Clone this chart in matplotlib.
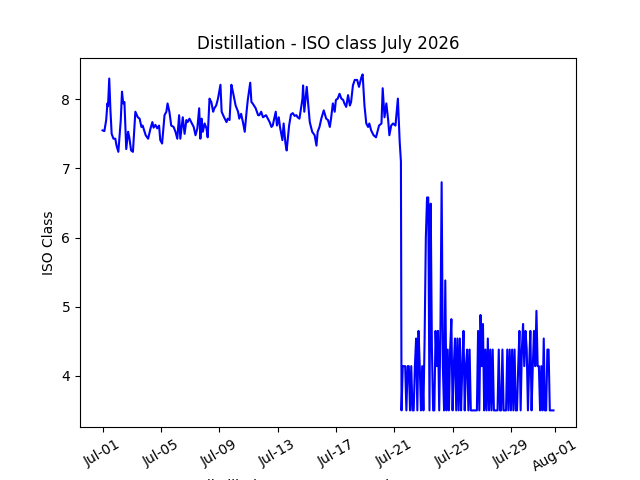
import matplotlib
matplotlib.use("Agg")
import matplotlib.pyplot as plt
import matplotlib.dates as mdates
import numpy as np
import pandas as pd

start = pd.Timestamp("2026-07-01 00:00")

# Part 1: hours since start and ISO class readings (before the drop)
high_hours = [0, 3, 6, 8, 9, 11, 13, 15, 18, 21,
              23, 26, 30, 32, 34, 36, 39, 42, 44, 47,
              50, 54, 58, 61, 64, 66, 71, 75, 79, 82,
              84, 87, 90, 93, 95, 98, 102, 105, 107, 110,
              113, 117, 120, 123, 126, 128, 132, 135, 138, 140,
              143, 146, 150, 153, 156, 159, 161, 163, 165, 168,
              171, 173, 176, 179, 182, 184, 187, 190, 194, 196,
              200, 204, 206, 209, 212, 214, 219, 223, 225, 228,
              231, 234, 237, 239, 243, 245, 247, 252, 256, 258,
              261, 264, 269, 275, 278, 280, 285, 287, 290, 292,
              296, 298, 301, 303, 307, 310, 313, 316, 319, 321,
              324, 329, 330, 332, 336, 341, 345, 349, 352, 354,
              357, 360, 364, 368, 371, 374, 376, 379, 382, 384,
              387, 390, 393, 396, 398, 401, 404, 407, 409, 412,
              415, 419, 422, 426, 428, 431, 434, 437, 439, 442,
              446, 450, 455, 459, 461, 464, 467, 470, 472, 475,
              478, 482, 486, 489, 491]
high_values = [7.55, 7.54, 7.70, 7.94, 7.90, 8.30, 7.84, 7.50, 7.43, 7.43,
               7.33, 7.24, 7.70, 8.11, 7.94, 7.96, 7.28, 7.53, 7.45, 7.26,
               7.24, 7.82, 7.74, 7.72, 7.60, 7.62, 7.48, 7.43, 7.58, 7.67,
               7.59, 7.63, 7.58, 7.62, 7.41, 7.36, 7.77, 7.82, 7.94, 7.82,
               7.62, 7.60, 7.53, 7.43, 7.77, 7.43, 7.74, 7.50, 7.70, 7.67,
               7.72, 7.67, 7.60, 7.48, 7.58, 7.87, 7.43, 7.72, 7.53, 7.65,
               7.58, 7.45, 8.01, 7.96, 7.82, 7.87, 7.91, 8.01, 8.21, 7.82,
               7.74, 7.67, 7.72, 7.70, 8.21, 8.13, 7.91, 7.82, 7.72, 7.79,
               7.67, 7.53, 7.82, 7.99, 8.24, 7.96, 7.94, 7.87, 7.77, 7.77,
               7.82, 7.74, 7.77, 7.67, 7.60, 7.62, 7.82, 7.62, 7.74, 7.60,
               7.41, 7.65, 7.36, 7.26, 7.62, 7.78, 7.80, 7.76, 7.77, 7.74,
               7.72, 8.01, 8.20, 7.82, 8.18, 7.67, 7.53, 7.48, 7.33, 7.53,
               7.60, 7.72, 7.84, 7.72, 7.70, 7.60, 7.72, 7.94, 7.82, 7.99,
               8.01, 8.08, 8.01, 7.99, 7.94, 7.89, 8.06, 7.91, 7.96, 8.20,
               8.28, 8.28, 8.18, 8.32, 8.36, 7.91, 7.65, 7.60, 7.65, 7.55,
               7.48, 7.45, 7.62, 7.65, 8.16, 7.74, 7.94, 7.70, 7.48, 7.62,
               7.65, 7.62, 8.01, 7.38, 7.10]

# Part 2: readings every 2 hours from hour 492 (after the drop)
low_start_hour = 492
low_step_hours = 2
low_values = [3.5, 4.14, 4.14, 4.14, 3.5, 4.14, 4.14, 3.5, 4.14, 3.5,
              3.5, 4.14, 4.54, 3.5, 4.65, 4.14, 3.5, 4.14, 3.5, 4.54,
              6.0, 6.58, 6.58, 3.5, 6.49, 4.38, 3.5, 3.5, 4.65, 4.14,
              4.65, 3.5, 4.65, 6.8, 4.14, 3.5, 5.38, 3.5, 4.38, 3.5,
              4.38, 4.82, 3.5, 4.14, 4.54, 3.5, 4.54, 3.5, 4.54, 3.5,
              4.14, 4.65, 3.5, 4.14, 4.38, 3.5, 4.38, 3.5, 3.5, 3.5,
              3.5, 3.5, 3.5, 4.65, 3.5, 4.88, 4.14, 4.75, 3.5, 4.38,
              3.5, 4.54, 3.5, 4.38, 3.5, 4.38, 3.5, 3.5, 3.5, 3.5,
              4.38, 3.5, 3.5, 4.38, 3.5, 3.5, 3.5, 4.38, 3.5, 4.38,
              3.5, 4.38, 3.5, 4.38, 3.5, 3.5, 4.14, 4.65, 3.5, 4.38,
              4.75, 4.14, 4.65, 4.38, 3.5, 4.14, 4.65, 3.5, 4.14, 4.65,
              4.14, 4.94, 4.14, 4.14, 3.5, 4.14, 3.5, 4.54, 3.5, 3.5,
              4.38, 4.38, 3.5, 3.5, 3.5, 3.5]

low_hours = low_start_hour + low_step_hours * np.arange(len(low_values))
hours = np.concatenate([np.array(high_hours, dtype=float), low_hours.astype(float)])
values = np.concatenate([np.array(high_values), np.array(low_values)])
times = start + pd.to_timedelta(hours, unit="h")

fig, ax = plt.subplots(figsize=(6.4, 4.8), dpi=100)
ax.plot(times, values, color="blue", linewidth=1.5)
ax.set_title("Distillation - ISO class July 2026")
ax.set_ylabel("ISO Class")
ax.set_xlabel("distillation measurement timestamp")
ax.xaxis.set_major_locator(mdates.DayLocator(bymonthday=[1, 5, 9, 13, 17, 21, 25, 29]))
ax.xaxis.set_major_formatter(mdates.DateFormatter("%b-%d"))
plt.setp(ax.get_xticklabels(), rotation=30)
fig.savefig("out.png", dpi=100)
